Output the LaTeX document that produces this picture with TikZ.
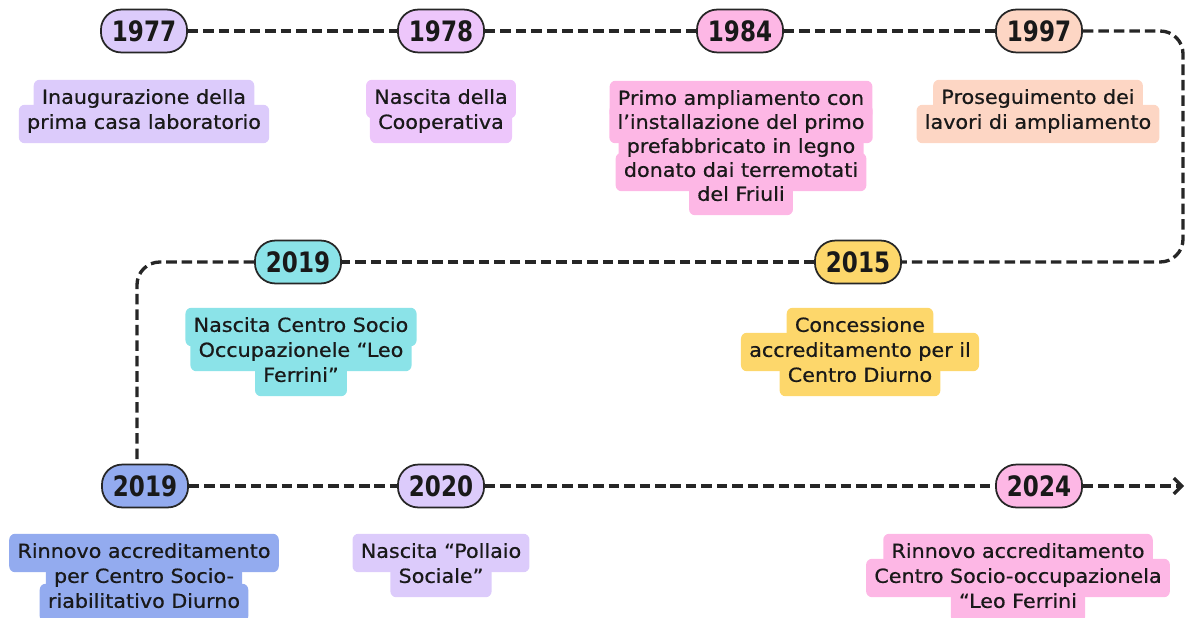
\documentclass[tikz,border=0pt]{standalone}
\usepackage{fontspec}
\setmainfont[FakeStretch=1.07,FakeBold=0.7]{DejaVu Sans}
\newfontfamily\annofont[FakeStretch=0.82]{DejaVu Sans}
\usetikzlibrary{arrows.meta}
\pgfdeclarelayer{fondo}
\pgfsetlayers{fondo,main}
% una riga di testo con il suo sfondo sotto
\newcommand\riga[4]{%
	\node[riga] (#1) at (#2) {#4};
	\begin{pgfonlayer}{fondo}
		\fill[#3,rounded corners=3.4pt] (#1.south west) rectangle (#1.north east);
	\end{pgfonlayer}}
\begin{document}
\begin{tikzpicture}[x=0.02cm,y=-0.02cm,line join=round,
	linea/.style={line width=1.9pt,dash pattern=on 6pt off 2.8pt,black!85},
	anno/.style={draw=black!85,line width=1pt,rounded corners=11.5pt,minimum width=49pt,minimum height=24.4pt,inner xsep=3pt,text height=11.6pt,text depth=0pt,font=\annofont\bfseries\fontsize{16}{16}\selectfont,text=black!90},
	riga/.style={inner xsep=4.5pt,inner ysep=5.5pt,text height=8pt,text depth=2.5pt,font=\fontsize{11}{13}\selectfont,text=black!90}]
		%\draw[gray!30] (0,0) grid[step=50] (1186,618);
		\definecolor{lilla}{HTML}{DCCBFB}
		\definecolor{malva}{HTML}{EDC6FB}
		\definecolor{rosa}{HTML}{FDB7E5}
		\definecolor{pesca}{HTML}{FDD6C4}
		\definecolor{ciano}{HTML}{8BE3E8}
		\definecolor{giallo}{HTML}{FDD76B}
		\definecolor{blu}{HTML}{93ABEF}
		\useasboundingbox (0,0) rectangle (1186,618);
		
		% anni
		\node[anno,fill=lilla] (y1977) at (144,31) {1977};
		\node[anno,fill=malva] (y1978) at (441,31) {1978};
		\node[anno,fill=rosa] (y1984) at (740,31) {1984};
		\node[anno,fill=pesca] (y1997) at (1039,31) {1997};
		\node[anno,fill=ciano] (y2019a) at (298,262) {2019};
		\node[anno,fill=giallo] (y2015) at (858,262) {2015};
		\node[anno,fill=blu] (y2019b) at (145,486) {2019};
		\node[anno,fill=lilla] (y2020) at (441,486) {2020};
		\node[anno,fill=rosa] (y2024) at (1039,486) {2024};
		
		\coordinate (angoloA) at (1183,31);
		\coordinate (angoloB) at (1183,262);
		\coordinate (angoloC) at (137,262);
		\coordinate (fine) at (1184,486);
		
		\draw[linea] (y1977)--(y1978);
		\draw[linea] (y1978)--(y1984);
		\draw[linea] (y1984)--(y1997);
		\draw[linea,rounded corners=13pt] (y1997)--(angoloA)--(angoloB)--(y2015);
		\draw[linea] (y2015)--(y2019a);
		\draw[linea,rounded corners=13pt] (y2019a)--(angoloC)--(angoloC |- y2019b.north);
		\draw[linea] (y2019b)--(y2020);
		\draw[linea] (y2020)--(y2024);
		\draw[linea,-{Straight Barb[length=4.5pt,width=9pt]}] (y2024)--(fine);
		
		% riquadri
		\riga{t1977a}{144,99}{lilla}{Inaugurazione della}
		\riga{t1977b}{144,124}{lilla}{prima casa laboratorio}
		
		\riga{t1978a}{441,99}{malva}{Nascita della}
		\riga{t1978b}{441,124}{malva}{Cooperativa}
		
		\riga{t1984a}{741,100}{rosa}{Primo ampliamento con}
		\riga{t1984b}{741,124}{rosa}{l’installazione del primo}
		\riga{t1984c}{741,148}{rosa}{prefabbricato in legno}
		\riga{t1984d}{741,172}{rosa}{donato dai terremotati}
		\riga{t1984e}{741,196}{rosa}{del Friuli}
		
		\riga{t1997a}{1038,99}{pesca}{Proseguimento dei}
		\riga{t1997b}{1038,124}{pesca}{lavori di ampliamento}
		
		\riga{t2019aa}{301,327}{ciano}{Nascita Centro Socio}
		\riga{t2019ab}{301,352}{ciano}{Occupazionele “Leo}
		\riga{t2019ac}{301,377}{ciano}{Ferrini”}
		
		\riga{t2015a}{860,327}{giallo}{Concessione}
		\riga{t2015b}{860,352}{giallo}{accreditamento per il}
		\riga{t2015c}{860,377}{giallo}{Centro Diurno}
		
		\riga{t2019ba}{144,553}{blu}{Rinnovo accreditamento}
		\riga{t2019bb}{144,578}{blu}{per Centro Socio-}
		\riga{t2019bc}{144,603}{blu}{riabilitativo Diurno}
		
		\riga{t2020a}{441,553}{lilla}{Nascita “Pollaio}
		\riga{t2020b}{441,578}{lilla}{Sociale”}
		
		\riga{t2024a}{1018,553}{rosa}{Rinnovo accreditamento}
		\riga{t2024b}{1018,578}{rosa}{Centro Socio-occupazionela}
		\riga{t2024c}{1018,603}{rosa}{“Leo Ferrini}
	\end{tikzpicture}
\end{document}
